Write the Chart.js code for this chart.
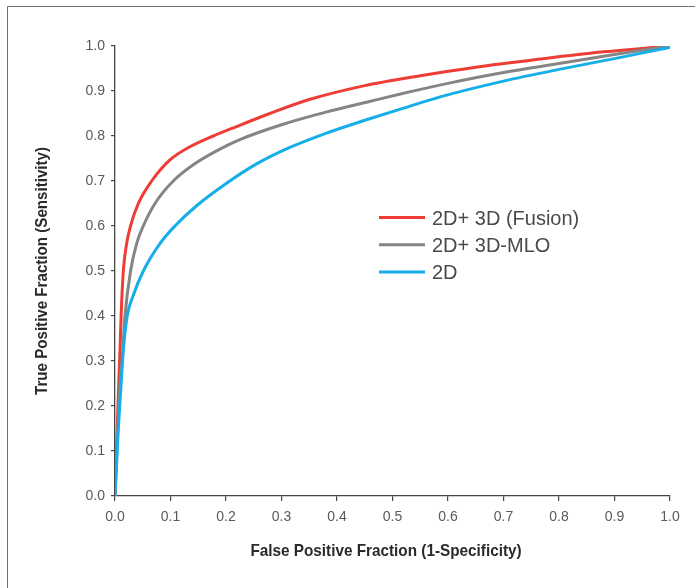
<!DOCTYPE html>
<html>
<head>
<meta charset="utf-8">
<script src="https://cdn.jsdelivr.net/npm/chart.js@4.4.1/dist/chart.umd.min.js"></script>
<style>
  html, body { margin: 0; padding: 0; background: #fff; }
  canvas { display: block; }
</style>
</head>
<body>
<canvas id="c" width="695" height="588"></canvas>
<script>
// ---- Data ----
const seriesLabels = ["2D+ 3D (Fusion)", "2D+ 3D-MLO", "2D"];
const seriesColors = ["#ee3d35", "#858585", "#16aee9"];

const fusionFPF = [0, 0.004, 0.007, 0.009, 0.011, 0.015, 0.021, 0.028, 0.042, 0.066, 0.099, 0.135, 0.177, 0.219, 0.279, 0.35, 0.45, 0.55, 0.65, 0.766, 0.88, 1.0];
const fusionTPF = [0, 0.15, 0.26, 0.324, 0.40, 0.50, 0.561, 0.60, 0.65, 0.70, 0.747, 0.776, 0.80, 0.821, 0.850, 0.881, 0.912, 0.934, 0.953, 0.971, 0.987, 1.0];

const mloFPF = [0, 0.005, 0.009, 0.014, 0.018, 0.028, 0.039, 0.051, 0.072, 0.105, 0.147, 0.189, 0.225, 0.30, 0.38, 0.453, 0.52, 0.60, 0.70, 0.80, 0.90, 1.0];
const mloTPF = [0, 0.15, 0.25, 0.324, 0.40, 0.50, 0.561, 0.60, 0.65, 0.70, 0.741, 0.771, 0.792, 0.825, 0.853, 0.875, 0.895, 0.917, 0.941, 0.961, 0.981, 1.0];

const twoDFPF = [0, 0.006, 0.011, 0.015, 0.022, 0.032, 0.051, 0.081, 0.108, 0.147, 0.201, 0.255, 0.31, 0.38, 0.453, 0.52, 0.586, 0.70, 0.80, 0.90, 1.0];
const twoDTPF = [0, 0.15, 0.25, 0.324, 0.40, 0.443, 0.50, 0.561, 0.60, 0.645, 0.695, 0.738, 0.772, 0.806, 0.836, 0.862, 0.887, 0.922, 0.948, 0.972, 0.997];

const xTickValues = [0, 0.1, 0.2, 0.3, 0.4, 0.5, 0.6, 0.7, 0.8, 0.9, 1.0];
const yTickValues = [0, 0.1, 0.2, 0.3, 0.4, 0.5, 0.6, 0.7, 0.8, 0.9, 1.0];
const xTitle = "False Positive Fraction (1-Specificity)";
const yTitle = "True Positive Fraction (Sensitivity)";

function pts(xs, ys) { return xs.map((x, i) => ({ x: x, y: ys[i] })); }
const seriesData = [pts(fusionFPF, fusionTPF), pts(mloFPF, mloTPF), pts(twoDFPF, twoDTPF)];

// frame plugin (left + top border lines of the figure box)
const framePlugin = {
  id: 'frame',
  beforeDraw(chart) {
    const ctx = chart.ctx;
    ctx.save();
    ctx.fillStyle = '#fff';
    ctx.fillRect(0, 0, chart.width, chart.height);
    ctx.strokeStyle = '#707070';
    ctx.lineWidth = 1;
    ctx.beginPath();
    ctx.moveTo(7.5, chart.height);
    ctx.lineTo(7.5, 6.5);
    ctx.lineTo(chart.width, 6.5);
    ctx.stroke();
    ctx.restore();
  }
};

// condensed bold axis titles
const axisTitles = {
  id: 'axisTitles',
  afterDraw(chart) {
    const ctx = chart.ctx;
    ctx.save();
    ctx.font = 'bold 17px "Liberation Sans", Arial, sans-serif';
    ctx.fillStyle = '#2a2a2a';
    ctx.textAlign = 'center';
    ctx.textBaseline = 'middle';
    ctx.save();
    ctx.translate(386, 551);
    ctx.scale(0.9, 1);
    ctx.fillText(xTitle, 0, 0);
    ctx.restore();
    ctx.save();
    ctx.translate(42, 271);
    ctx.rotate(-Math.PI / 2);
    ctx.scale(0.89, 1);
    ctx.fillText(yTitle, 0, 0);
    ctx.restore();
    ctx.restore();
  }
};

// legend drawn inside the plot from dataset labels/colors
const innerLegend = {
  id: 'innerLegend',
  afterDatasetsDraw(chart) {
    const ctx = chart.ctx;
    const x0 = 379, x1 = 425, tx = 432;
    const y0 = 217.5, dy = 27.3;
    ctx.save();
    ctx.font = '20px "Liberation Sans", Arial, sans-serif';
    ctx.textBaseline = 'middle';
    chart.data.datasets.forEach((ds, i) => {
      const y = y0 + i * dy;
      ctx.strokeStyle = ds.borderColor;
      ctx.lineWidth = 3;
      ctx.beginPath();
      ctx.moveTo(x0, y);
      ctx.lineTo(x1, y);
      ctx.stroke();
      ctx.fillStyle = '#4a4a4a';
      ctx.fillText(ds.label, tx, y + 1.5);
    });
    ctx.restore();
  }
};

new Chart(document.getElementById('c'), {
  type: 'scatter',
  data: {
    datasets: seriesLabels.map((lab, i) => ({
      label: lab,
      data: seriesData[i],
      showLine: true,
      borderColor: seriesColors[i],
      backgroundColor: seriesColors[i],
      borderWidth: 3,
      pointRadius: 0,
      pointHoverRadius: 0,
      cubicInterpolationMode: 'monotone',
      order: 3 - i
    }))
  },
  options: {
    responsive: false,
    animation: false,
    events: [],
    layout: { padding: { left: 0, right: 25, top: 46, bottom: 0 } },
    plugins: { legend: { display: false }, tooltip: { enabled: false } },
    scales: {
      x: {
        type: 'linear',
        min: 0, max: 1,
        afterBuildTicks(scale) { scale.ticks = xTickValues.map(v => ({ value: v })); },
        afterFit(scale) { scale.height = 92; },
        ticks: {
          color: '#5a5a5a',
          font: { family: '"Liberation Sans", Arial, sans-serif', size: 14 },
          padding: 8,
          maxRotation: 0,
          autoSkip: false,
          callback: v => Number(v).toFixed(1)
        },
        grid: { drawOnChartArea: false, drawTicks: true, tickLength: 5, color: '#444', lineWidth: 1.2 },
        border: { color: '#444', width: 1.3 }
      },
      y: {
        type: 'linear',
        min: 0, max: 1,
        afterBuildTicks(scale) { scale.ticks = yTickValues.map(v => ({ value: v })); },
        afterFit(scale) { scale.width = 115; },
        ticks: {
          color: '#5a5a5a',
          font: { family: '"Liberation Sans", Arial, sans-serif', size: 14 },
          padding: 6,
          autoSkip: false,
          callback: v => Number(v).toFixed(1)
        },
        grid: { drawOnChartArea: false, drawTicks: true, tickLength: 4, color: '#444', lineWidth: 1.2 },
        border: { color: '#444', width: 1.3 }
      }
    }
  },
  plugins: [framePlugin, innerLegend, axisTitles]
});
</script>
</body>
</html>
